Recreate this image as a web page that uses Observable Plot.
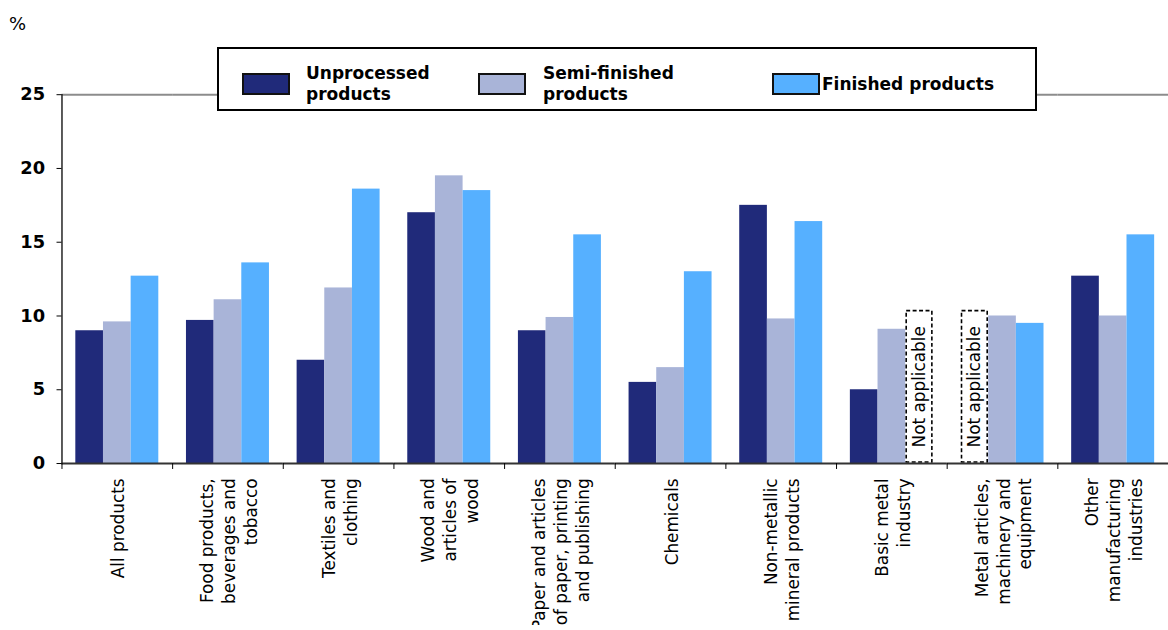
<!DOCTYPE html>
<html>
<head>
<meta charset="utf-8">
<script src="https://cdn.jsdelivr.net/npm/d3@7"></script>
<script src="https://cdn.jsdelivr.net/npm/@observablehq/plot@0.6"></script>
<style>
  html, body { margin: 0; padding: 0; background: #fff; overflow: hidden; }
  #chart { position: relative; width: 1168px; height: 630px; overflow: hidden;
           font-family: "DejaVu Sans", Verdana, sans-serif; color: #000; }
  #unit { position: absolute; left: 9px; top: 13px; font-size: 18px; }
  #legend { position: absolute; left: 217px; top: 47px; width: 820px; height: 64px;
            box-sizing: border-box; border: 2px solid #000; background: #fff; }
  .item { position: absolute; top: 14px; height: 42px; display: flex; align-items: center;
          font-weight: bold; font-size: 17px; line-height: 21px; white-space: nowrap; }
  .swatch { width: 48px; height: 22px; box-sizing: border-box; border: 2px solid #111; flex: none; }
</style>
</head>
<body>
<div id="chart">
  <div id="unit">%</div>
  <div id="legend"></div>
</div>
<script>
// Industry groups along the x axis
const categories = [
  "All products",
  "Food products, beverages and tobacco",
  "Textiles and clothing",
  "Wood and articles of wood",
  "Paper and articles of paper, printing and publishing",
  "Chemicals",
  "Non-metallic mineral products",
  "Basic metal industry",
  "Metal articles, machinery and equipment",
  "Other manufacturing industries"
];

// Axis labels, broken into lines
const categoryLabels = [
  "All products",
  "Food products,\nbeverages and\ntobacco",
  "Textiles and\nclothing",
  "Wood and\narticles of\nwood",
  "Paper and articles\nof paper, printing\nand publishing",
  "Chemicals",
  "Non-metallic\nmineral products",
  "Basic metal\nindustry",
  "Metal articles,\nmachinery and\nequipment",
  "Other\nmanufacturing\nindustries"
];

const series = ["Unprocessed products", "Semi-finished products", "Finished products"];
const legendLabels = ["Unprocessed<br>products", "Semi-finished<br>products", "Finished products"];
const colors = ["#202A7A", "#A9B4D8", "#56B0FF"];

// Values in %, null = not applicable
const unprocessed  = [9.0, 9.7, 7.0, 17.0, 9.0, 5.5, 17.5, 5.0, null, 12.7];
const semiFinished = [9.6, 11.1, 11.9, 19.5, 9.9, 6.5, 9.8, 9.1, 10.0, 10.0];
const finished     = [12.7, 13.6, 18.6, 18.5, 15.5, 13.0, 16.4, null, 9.5, 15.5];

const yTicks = [0, 5, 10, 15, 20, 25];
const notApplicableHeight = 10.4;
const notApplicableText = "Not applicable";

// Long-format table built from the arrays above
const seriesValues = [unprocessed, semiFinished, finished];
const rows = categories.flatMap((category, i) =>
  series.map((s, j) => ({category, series: s, value: seriesValues[j][i]}))
);
const bars = rows.filter(d => d.value != null);
const notApplicable = rows.filter(d => d.value == null);

const width = 1178, marginLeft = 62, marginRight = 0;
const bandStep = (width - marginLeft - marginRight) / categories.length;

const plot = Plot.plot({
  width,
  height: 630,
  marginTop: 95,
  marginBottom: 163,
  marginLeft,
  marginRight,
  facet: {marginTop: 0, marginBottom: 0, marginLeft: 0, marginRight: 0},
  style: {fontFamily: "DejaVu Sans, Verdana, sans-serif", fontSize: "17px", color: "#000", background: "transparent"},
  fx: {domain: categories, padding: 0, round: false, axis: null, label: null},
  x: {domain: series, paddingInner: 0, paddingOuter: 0.5, round: false, axis: null, label: null},
  y: {domain: [0, 25], label: null},
  color: {domain: series, range: colors},
  marks: [
    Plot.ruleY([25], {stroke: "#8c8c8c", strokeWidth: 2}),
    Plot.barY(bars, {fx: "category", x: "series", y: "value", fill: "series"}),
    Plot.barY(notApplicable, {
      fx: "category", x: "series", y1: 0, y2: notApplicableHeight,
      fill: "white", stroke: "#000", strokeWidth: 1.6, strokeDasharray: "4,2.5", inset: 1
    }),
    Plot.text(notApplicable, {
      fx: "category", x: "series", y: notApplicableHeight / 2,
      text: () => notApplicableText, rotate: -90, fontSize: 17
    }),
    Plot.ruleY([0], {stroke: "#333", strokeWidth: 2}),
    Plot.frame({anchor: "left", facetAnchor: "left", stroke: "#222", strokeWidth: 1.5}),
    Plot.axisY({ticks: yTicks, tickSize: 5, tickPadding: 12, fontWeight: "bold", fontSize: 18, anchor: "left", label: null}),
    // tick marks between industry groups
    Plot.axisFx({anchor: "bottom", tickSize: 6, tickFormat: () => "", dx: -bandStep / 2, label: null}),
    Plot.text(categories, {
      fx: d => d, text: (d, i) => categoryLabels[i], frameAnchor: "bottom",
      rotate: -90, textAnchor: "end", lineAnchor: "middle", lineHeight: 1.3, dy: 15
    })
  ]
});

const chart = document.getElementById("chart");
chart.insertBefore(plot, chart.firstChild);
plot.style.position = "absolute";
plot.style.left = "0";
plot.style.top = "0";

// Legend
const legend = document.getElementById("legend");
const itemLeft = [23, 259, 553];
const swatchGap = [16, 17, 2];
series.forEach((s, i) => {
  const item = document.createElement("div");
  item.className = "item";
  item.style.left = itemLeft[i] + "px";
  const sw = document.createElement("div");
  sw.className = "swatch";
  sw.style.background = colors[i];
  sw.style.marginRight = swatchGap[i] + "px";
  const label = document.createElement("div");
  label.innerHTML = legendLabels[i];
  item.appendChild(sw);
  item.appendChild(label);
  legend.appendChild(item);
});
</script>
</body>
</html>
